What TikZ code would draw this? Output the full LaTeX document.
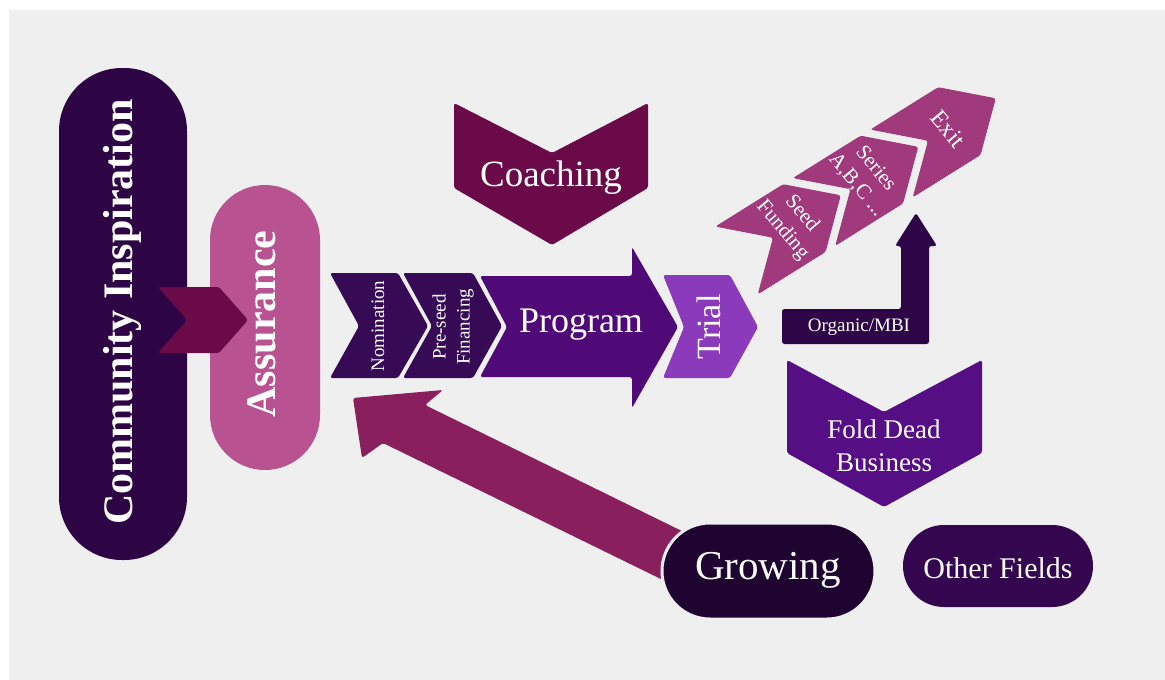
\documentclass[tikz,border=0pt]{standalone}
\usepackage{fontspec}
\setmainfont{Liberation Serif}
\definecolor{bg}{HTML}{EFEFEF}
\definecolor{comm}{HTML}{2D0545}
\definecolor{assur}{HTML}{B85290}
\definecolor{wine}{HTML}{6B0A48}
\definecolor{nomi}{HTML}{370A55}
\definecolor{prog}{HTML}{4F0A78}
\definecolor{trial}{HTML}{8B3ABB}
\definecolor{fund}{HTML}{A13A7D}
\definecolor{organic}{HTML}{2E0546}
\definecolor{fold}{HTML}{560E84}
\definecolor{growarr}{HTML}{891F5D}
\definecolor{growpill}{HTML}{1F0331}
\definecolor{other}{HTML}{33064F}
\tikzset{
  txt/.style={text=white, inner sep=0pt, align=center},
  fs/.style={font=\fontsize{#1}{#1*1.2}\selectfont},
  shp/.style={rounded corners=2.5pt}
}
\begin{document}
\begin{tikzpicture}[x=1pt,y=-1pt]
\useasboundingbox (0,0) rectangle (1165,680);
\fill[white] (0,0) rectangle (1165,680);
\fill[bg] (9,10) rectangle (1165,680);

% Community Inspiration pill
\fill[comm, rounded corners=63pt] (59,68) rectangle (187,560);
\node[txt, rotate=90, font=\bfseries\fontsize{42}{48}\selectfont] (comm) at (122,312) {Community Inspiration};

% Assurance pill
\fill[assur, rounded corners=55pt] (210,185) rectangle (320,470);
\node[txt, rotate=90, font=\bfseries\fontsize{42}{48}\selectfont] (assur) at (262,324) {Assurance};

% small chevron
\fill[wine, shp] (158,287) -- (219,287) -- (248,320) -- (219,353) -- (158,353) -- (187,320) -- cycle;

% Nomination
\fill[nomi, shp] (330,273) -- (398,273) -- (428,326) -- (398,378) -- (330,378) -- (359,326) -- cycle;
\node[txt, rotate=90, font=\fontsize{19}{23}\selectfont] (nomi) at (378,326) {Nomination};

% Pre-seed
\fill[nomi, shp] (403,273) -- (473,273) -- (502,326) -- (473,378) -- (403,378) -- (432,326) -- cycle;
\node[txt, rotate=90, font=\fontsize{19}{24}\selectfont] (pre) at (453,327) {Pre-seed\\Financing};

% Program arrow
\fill[prog, shp] (480,276) -- (632,276) -- (632,247) -- (678,327) -- (632,408) -- (632,377) -- (480,377) -- (507,327) -- cycle;
\node[txt, font=\fontsize{36}{42}\selectfont] (prog) at (581,325) {Program};

% Trial
\fill[trial, shp] (663,275) -- (730,275) -- (758,327) -- (730,378) -- (663,378) -- (684,327) -- cycle;
\node[txt, rotate=90, font=\fontsize{34}{40}\selectfont] (trial) at (709,327) {Trial};

% Coaching
\fill[wine, shp] (454,103) -- (552,153) -- (648,103) -- (648,188) -- (552,245) -- (454,188) -- cycle;
\node[txt, font=\fontsize{37}{44}\selectfont] (coach) at (551,178) {Coaching};

% funding chevrons
\foreach \ox/\oy in {736.5/260.5, 814/212, 891.5/163.5}
  \fill[fund, shp, shift={(\ox,\oy)}, rotate=32] (0,-40) -- (80,-40) -- (123,0) -- (80,40) -- (0,40) -- (43,0) -- cycle;
\node[txt, rotate=-50, font=\fontsize{21}{25}\selectfont] (seed) at (792,222) {Seed\\Funding};
\node[txt, rotate=-50, font=\fontsize{21}{25}\selectfont] (series) at (866,177) {Series\\A,B,C ...};
\node[txt, rotate=-50, font=\fontsize{24}{28}\selectfont] (exit) at (948,129) {Exit};

% Organic/MBI L-arrow
\fill[organic, shp] (782,309) -- (901,309) -- (901,246) -- (895,246) -- (916,213) -- (937,246) -- (929,246) -- (929,344) -- (782,344) -- cycle;
\node[txt, font=\fontsize{19}{23}\selectfont] (org) at (859,327) {Organic/MBI};

% Fold Dead Business
\fill[fold, shp] (787,360) -- (884,412) -- (982,360) -- (982,453) -- (884,507) -- (787,453) -- cycle;
\node[txt, font=\fontsize{27}{33}\selectfont] (foldt) at (884,446) {Fold Dead\\Business};

% Growing arrow
\fill[growarr, shp] (353,398) -- (443,390) -- (425,405) -- (690,535) -- (665,581) -- (383,443) -- (362,458) -- cycle;

% Growing pill
\filldraw[fill=growpill, draw=bg, line width=3pt, rounded corners=48pt] (662,523) rectangle (875,619);
\node[txt, font=\fontsize{41}{48}\selectfont] (grow) at (768,570) {Growing};

% Other Fields pill
\fill[other, rounded corners=41pt] (903,525) rectangle (1093,607);
\node[txt, font=\fontsize{30}{36}\selectfont] (otherf) at (998,568) {Other Fields};
\end{tikzpicture}
\end{document}
